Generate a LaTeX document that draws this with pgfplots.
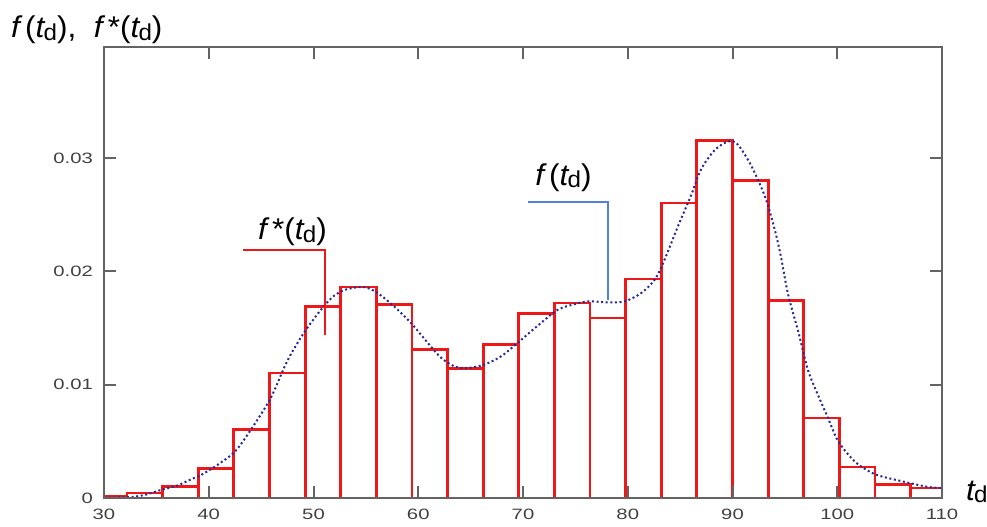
\documentclass[border=0pt]{standalone}
\usepackage{fontspec}
\setmainfont{Liberation Sans}
\usepackage{graphicx}
\usepackage{pgfplots}
\pgfplotsset{compat=1.18}
\definecolor{barred}{RGB}{238,24,24}
\definecolor{curveblue}{RGB}{40,40,150}
\definecolor{leadblue}{RGB}{80,130,215}
\definecolor{axgray}{RGB}{100,100,100}
\newcommand{\lbl}[1]{\scalebox{1.05}[1]{\fontsize{30}{30}\selectfont #1}}
\newcommand{\tsub}{\textit{t}\kern-0.06em\raisebox{-0.08em}{\fontsize{23}{23}\selectfont d}}
\newcommand{\tk}[1]{\scalebox{1.35}[1]{\fontsize{15}{15}\selectfont #1}}
\pgfplotstableread{
x y
28.8 0.0001
32.2 0.00044
35.6 0.00102
39.0 0.00259
42.4 0.00603
45.8 0.01103
49.2 0.0169
52.6 0.01862
56.0 0.01706
59.4 0.01309
62.8 0.01141
66.2 0.01357
69.6 0.01625
73.0 0.01721
76.4 0.01589
79.8 0.01933
83.2 0.02604
86.6 0.03156
90.0 0.02803
93.4 0.01741
96.8 0.00706
100.2 0.00274
103.6 0.00117
107.0 0.00088
110.4 0
}\bars
\pgfplotstableread{
x y
30 0.00002
31.5 0.00005
32.8 0.0001
34 0.0003
35.4 0.0007
37 0.0011
38.2 0.0016
39.4 0.0021
40.8 0.0029
42.5 0.0041
44 0.0060
45.9 0.0088
47.5 0.0121
49.1 0.0146
50.7 0.0166
51.9 0.0178
53.1 0.0184
54.8 0.01862
56.1 0.0181
57.7 0.0169
59.3 0.01545
60.9 0.0137
62.2 0.01236
63.5 0.0116
64.7 0.01147
66.3 0.01177
67.9 0.0125
69.5 0.0137
71.4 0.0152
73.3 0.0166
74.9 0.0171
76.2 0.01735
78.1 0.01727
79.7 0.01735
81.3 0.0181
82.6 0.0193
83.5 0.021
84.8 0.024
86.0 0.0266
87.0 0.029
88.3 0.0307
89.6 0.03147
90.5 0.0312
91.8 0.0293
93.1 0.0266
94.0 0.0238
94.6 0.0214
95.3 0.0180
96.3 0.0146
97.2 0.0113
98.2 0.0090
99.1 0.0071
100.1 0.0050
101.7 0.0032
103.6 0.0021
106.2 0.00147
108.7 0.00097
110 0.00088
}\curve
\begin{document}
\begin{tikzpicture}
\begin{axis}[name=ax, scale only axis, width=838pt, height=451pt,
  xmin=30, xmax=110, ymin=0, ymax=0.0398,
  xtick={30,40,...,110}, ytick={0,0.01,0.02,0.03},
  scaled y ticks=false,
  xticklabel={\tk{\pgfmathprintnumber[assume math mode=true]{\tick}}},
  yticklabel={\tk{\pgfmathprintnumber[fixed,precision=2,assume math mode=true]{\tick}}},
  tick label style={text=black!75, inner sep=0pt},
  xticklabel shift=11pt, yticklabel shift=11pt,
  tick align=inside, major tick length=12pt,
  every tick/.style={axgray, line width=2pt},
  axis line style={axgray, line width=2pt},
  axis on top, clip mode=individual,
]
\addplot[ybar interval, fill=none, draw=barred, line width=2.8pt] table {\bars};
\addplot[curveblue, line width=2pt, dash pattern=on 2pt off 2.6pt, smooth] table {\curve};
\draw[barred, line width=2pt] (axis cs:43.3,0.02192) -- (axis cs:51.1,0.02192) -- (axis cs:51.1,0.01442);
\node[anchor=base west, inner sep=0pt] at (axis cs:44.7,0.0228) {\lbl{\textit{f}\kern0.08em*(\tsub)}};
\draw[leadblue, line width=2pt] (axis cs:70.51,0.02609) -- (axis cs:78.09,0.02609) -- (axis cs:78.09,0.01751);
\node[anchor=base west, inner sep=0pt] at (axis cs:71.15,0.02757) {\lbl{\textit{f}\kern0.08em(\tsub)}};
\end{axis}
\node[anchor=base west, inner sep=0pt] at ([shift={(-93pt,9pt)}]ax.north west) {\lbl{\textit{f}\kern0.08em(\tsub),\ \ \textit{f}\kern0.08em*(\tsub)}};
\node[anchor=base west, inner sep=0pt] at ([shift={(24pt,-2pt)}]ax.south east) {\lbl{\tsub}};
\pgfresetboundingbox
\path ([shift={(-104pt,-28pt)}]ax.south west) rectangle ([shift={(45pt,47pt)}]ax.north east);
\end{tikzpicture}
\end{document}
